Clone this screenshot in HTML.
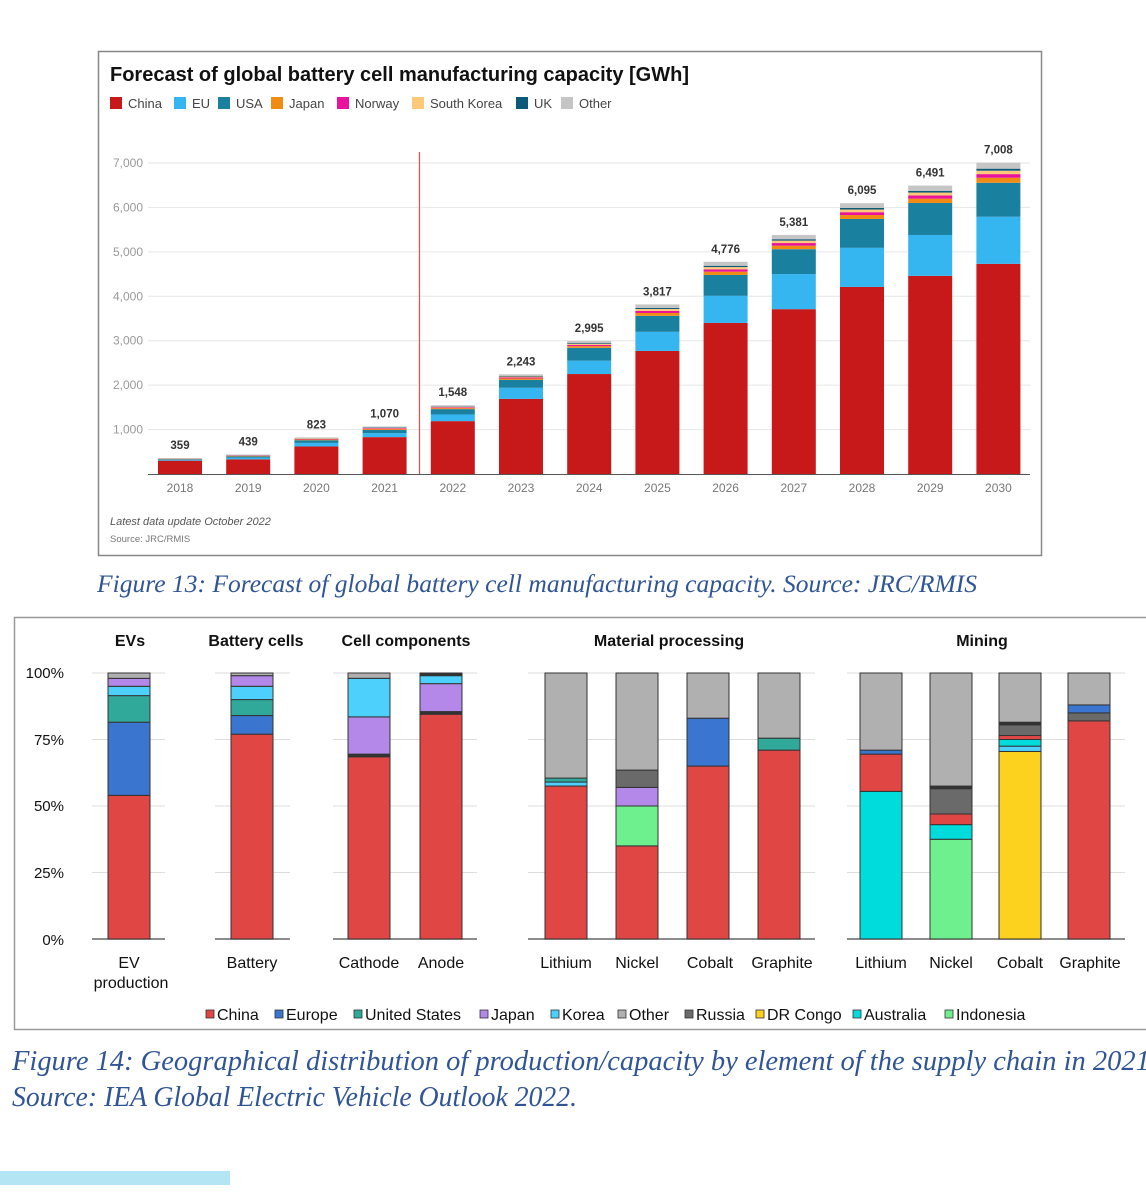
<!DOCTYPE html>
<html><head><meta charset="utf-8"><style>
html,body{margin:0;padding:0;background:#fff;width:1146px;height:1200px;overflow:hidden}
svg{display:block}
</style></head><body>
<svg id="s" width="1146" height="1200" xmlns="http://www.w3.org/2000/svg" font-family="Liberation Sans, sans-serif">
<rect x="0" y="0" width="1146" height="1200" fill="#fff"/>
<rect x="98.5" y="51.5" width="943" height="504" fill="#fff" stroke="#888" stroke-width="1.5"/>
<text x="110" y="81" font-size="20" font-weight="bold" fill="#111">Forecast of global battery cell manufacturing capacity [GWh]</text>
<g id="topleg" font-size="13" fill="#444"></g>
<g id="topc"></g>
<text x="110" y="525" font-size="11" font-style="italic" fill="#555">Latest data update October 2022</text>
<text x="110" y="542" font-size="9.5" fill="#777">Source: JRC/RMIS</text>
<text x="97" y="592" font-size="25" font-style="italic" fill="#2f5597" font-family="Liberation Serif, serif" textLength="880" lengthAdjust="spacingAndGlyphs">Figure 13: Forecast of global battery cell manufacturing capacity. Source: JRC/RMIS</text>
<rect x="14.5" y="617.5" width="1140" height="412" fill="#fff" stroke="#999" stroke-width="1.5"/>
<g id="bot"></g>
<text x="12" y="1070" font-size="28" font-style="italic" fill="#2f5597" font-family="Liberation Serif, serif" textLength="1145" lengthAdjust="spacingAndGlyphs">Figure 14: Geographical distribution of production/capacity by element of the supply chain in 2021.</text>
<text x="12" y="1106" font-size="28" font-style="italic" fill="#2f5597" font-family="Liberation Serif, serif" textLength="565" lengthAdjust="spacingAndGlyphs">Source: IEA Global Electric Vehicle Outlook 2022.</text>
<rect x="0" y="1171" width="230" height="14" fill="#b3e5f5"/>
</svg>
<script>
(function(){
const NS="http://www.w3.org/2000/svg";
function el(p,t,a,txt){const e=document.createElementNS(NS,t);for(const k in a)e.setAttribute(k,a[k]);if(txt!==undefined)e.textContent=txt;p.appendChild(e);return e;}
function fmt(v){return String(v).replace(/\B(?=(\d{3})+(?!\d))/g,',');}
const tg=document.getElementById('topc'), tl=document.getElementById('topleg');
const tc=['#c8191a','#35b6f0','#1a80a0','#f08c14','#e8139a','#fcc97a','#0c5a7a','#c5c5c5'];
const tn=['China','EU','USA','Japan','Norway','South Korea','UK','Other'];
const lxs=[110,174,218,271,337,412,516,561];
tn.forEach((n,i)=>{el(tl,'rect',{x:lxs[i],y:97,width:12,height:12,fill:tc[i]});el(tl,'text',{x:lxs[i]+18,y:108},n);});
const y0=474,k=311/7000;
for(let v=1000;v<=7000;v+=1000){const y=y0-v*k;el(tg,'line',{x1:148,x2:1030,y1:y,y2:y,stroke:'#e6e6e6'});el(tg,'text',{x:143,y:y+4,'font-size':12,fill:'#999','text-anchor':'end'},fmt(v));}
el(tg,'line',{x1:148,x2:1030,y1:y0+0.5,y2:y0+0.5,stroke:'#555'});
const data=[[2018,359,300,20,15],[2019,439,330,40,25],[2020,823,620,80,60],[2021,1070,830,90,70],[2022,1548,1190,150,120],[2023,2243,1690,250,180],[2024,2995,2250,300,290],[2025,3817,2770,430,360],[2026,4776,3400,610,470],[2027,5381,3710,790,560],[2028,6095,4210,880,650],[2029,6491,4460,920,720],[2030,7008,4730,1060,765]];
const sh=[0.25,0.18,0.17,0.1,0.3];
data.forEach((d,i)=>{const cx=180+i*68.2;const rest=d[1]-d[2]-d[3]-d[4];const parts=[d[2],d[3],d[4]].concat(sh.map(s=>s*rest));let cum=0;
parts.forEach((p,j)=>{const yb=y0-cum*k,yt=y0-(cum+p)*k;el(tg,'rect',{x:cx-22,y:yt,width:44,height:yb-yt,fill:tc[j]});cum+=p;});
el(tg,'text',{x:cx,y:y0-d[1]*k-9,'font-size':11.5,'font-weight':'bold',fill:'#333','text-anchor':'middle'},fmt(d[1]));
el(tg,'text',{x:cx,y:492,'font-size':12,fill:'#777','text-anchor':'middle'},d[0]);});
el(tg,'line',{x1:419.5,x2:419.5,y1:152,y2:474,stroke:'#e05050','stroke-width':1.2});
const bot=document.getElementById('bot');
const C={ch:'#e04644',eu:'#3a75cf',us:'#30a99a',jp:'#b388e8',kr:'#4dd0fb',ot:'#b0b0b0',ru:'#6a6a6a',dr:'#fcd21f',au:'#00dbdb',id:'#6ef08e',dk:'#333'};
const b0=939,b100=673,bk=(b0-b100)/100;
const segs=[[92,165],[215,290],[333,477],[528,815],[847,1125]];
[75,50,25].forEach(p=>segs.forEach(s=>el(bot,'line',{x1:s[0],x2:s[1],y1:b0-p*bk,y2:b0-p*bk,stroke:'#ddd'})));
segs.forEach(s=>{el(bot,'line',{x1:s[0],x2:s[1],y1:b100,y2:b100,stroke:'#ddd'});el(bot,'line',{x1:s[0],x2:s[1],y1:b0,y2:b0,stroke:'#666','stroke-width':1.5});});
[['100%',673],['75%',740],['50%',806],['25%',873],['0%',940]].forEach(t=>el(bot,'text',{x:64,y:t[1]+5,'font-size':15,fill:'#111','text-anchor':'end'},t[0]));
const bars=[
[129,[['ch',54],['eu',27.5],['us',10],['kr',3.5],['jp',3],['ot',2]]],
[252,[['ch',77],['eu',7],['us',6],['kr',5],['jp',4],['ot',1]]],
[369,[['ch',68.5],['dk',1],['jp',14],['kr',14.5],['ot',2]]],
[441,[['ch',84.5],['dk',1],['jp',10.5],['kr',3],['dk',1]]],
[566,[['ch',57.5],['kr',1.5],['us',1.5],['ot',39.5]]],
[637,[['ch',35],['id',15],['jp',7],['ru',6.5],['ot',36.5]]],
[708,[['ch',65],['eu',18],['ot',17]]],
[779,[['ch',71],['us',4.5],['ot',24.5]]],
[881,[['au',55.5],['ch',14],['eu',1.5],['ot',29]]],
[951,[['id',37.5],['au',5.5],['ch',4],['ru',9.5],['dk',1],['ot',42.5]]],
[1020,[['dr',70.5],['kr',2],['au',2.5],['ch',1.5],['ru',4],['dk',1],['ot',18.5]]],
[1089,[['ch',82],['ru',3],['eu',3],['ot',12]]]];
bars.forEach(b=>{let cum=0;b[1].forEach(p=>{const yb=b0-cum*bk,yt=b0-(cum+p[1])*bk;el(bot,'rect',{x:b[0]-21,y:yt,width:42,height:yb-yt,fill:C[p[0]],stroke:'#333','stroke-width':1});cum+=p[1];});});
[['EVs',130],['Battery cells',256],['Cell components',406],['Material processing',669],['Mining',982]].forEach(t=>el(bot,'text',{x:t[1],y:646,'font-size':16,'font-weight':'bold',fill:'#111','text-anchor':'middle'},t[0]));
[['EV',129,968],['production',131,988],['Battery',252,968],['Cathode',369,968],['Anode',441,968],['Lithium',566,968],['Nickel',637,968],['Cobalt',710,968],['Graphite',782,968],['Lithium',881,968],['Nickel',951,968],['Cobalt',1020,968],['Graphite',1090,968]].forEach(t=>el(bot,'text',{x:t[1],y:t[2],'font-size':16,fill:'#111','text-anchor':'middle'},t[0]));
const bl=[['ch','China',206],['eu','Europe',275],['us','United States',354],['jp','Japan',480],['kr','Korea',551],['ot','Other',618],['ru','Russia',685],['dr','DR Congo',756],['au','Australia',853],['id','Indonesia',945]];
bl.forEach(l=>{el(bot,'rect',{x:l[2],y:1010,width:8,height:8,fill:C[l[0]],stroke:'#333','stroke-width':0.8});el(bot,'text',{x:l[2]+11,y:1020,'font-size':16,fill:'#111'},l[1]);});
})();
</script>
</body></html>
